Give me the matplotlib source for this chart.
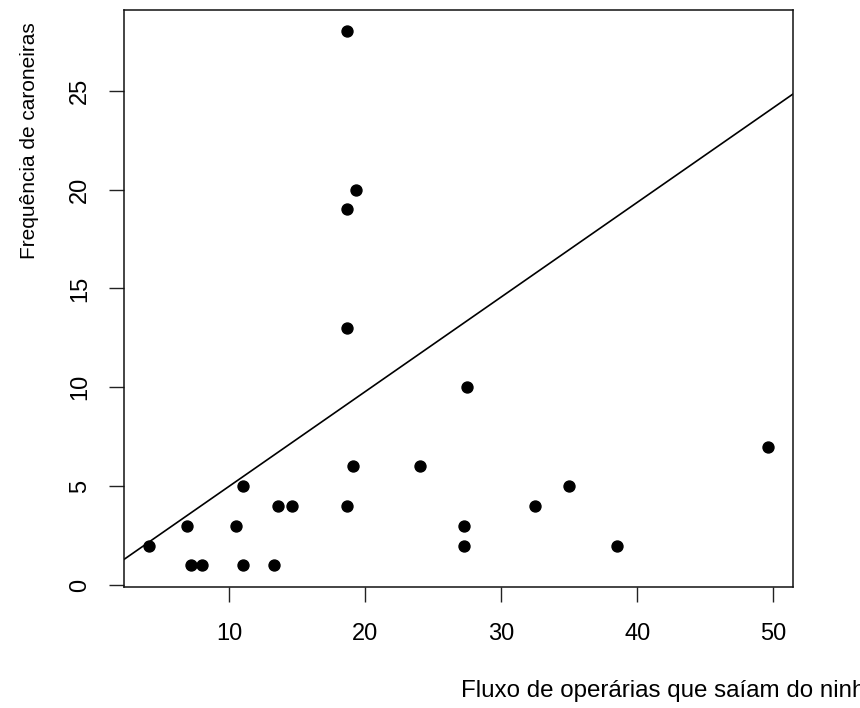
import matplotlib
matplotlib.use("Agg")
import matplotlib.pyplot as plt
import numpy as np

plt.rcParams['font.family'] = ['Liberation Sans', 'DejaVu Sans']

# fluxo de operarias (x) e frequencia de caroneiras (y)
fluxo = [4.1, 6.9, 7.2, 8.0, 10.5, 11.0, 11.0, 13.3, 13.6, 14.6,
         18.7, 19.1, 18.7, 18.7, 19.3, 18.7, 24.0, 27.3, 27.3, 27.5,
         32.5, 35.0, 38.5, 49.6]
caroneiras = [2, 3, 1, 1, 3, 5, 1, 1, 4, 4,
              4, 6, 13, 19, 20, 28, 6, 3, 2, 10,
              4, 5, 2, 7]

# reta ajustada
intercepto = 0.21
inclinacao = 0.4786

xticks = [10, 20, 30, 40, 50]
yticks = [0, 5, 10, 15, 20, 25]

fig = plt.figure(figsize=(8.6, 7.08), dpi=100)
ax = fig.add_axes([0.1442, 0.1713, 0.9217 - 0.1442, 0.9859 - 0.1713])

ax.plot(fluxo, caroneiras, 'o', color='black', markersize=7.9)

xmin, xmax = min(fluxo), max(fluxo)
ymin, ymax = min(caroneiras), max(caroneiras)
dx = (xmax - xmin) * 0.04
dy = (ymax - ymin) * 0.04
ax.set_xlim(xmin - dx, xmax + dx)
ax.set_ylim(ymin - dy, ymax + dy)

xs = np.array(ax.get_xlim())
ax.plot(xs, intercepto + inclinacao * xs, color='black', linewidth=1.2)

ax.set_xticks(xticks)
ax.set_yticks(yticks)
ax.set_yticklabels([str(v) for v in yticks], rotation=90, va='center')
ax.tick_params(axis='both', length=10.8, width=1, labelsize=17, color='#222222')
ax.tick_params(axis='x', pad=15)
ax.tick_params(axis='y', pad=13)
for s in ax.spines.values():
    s.set_linewidth(1.1)
    s.set_color('#111111')

fig.text(30 / 860, 1 - 22 / 708, 'Frequência de caroneiras', rotation=90,
         ha='center', va='top', fontsize=15)
fig.text(460.7 / 860, (708 - 697) / 708, 'Fluxo de operárias que saíam do ninho',
         ha='left', va='baseline', fontsize=17.4)

fig.savefig('out.png', dpi=100)
